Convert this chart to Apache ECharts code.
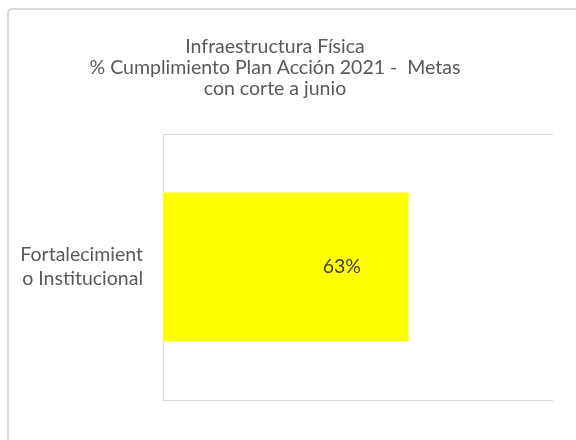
<!DOCTYPE html>
<html>
<head>
<meta charset="utf-8">
<script src="https://cdn.jsdelivr.net/npm/echarts@6/dist/echarts.min.js"></script>
<style>
  html, body { margin: 0; padding: 0; background: #ffffff; }
  #chart { width: 576px; height: 440px; }
</style>
</head>
<body>
<div id="chart"></div>
<script>
// Chart data
const titleLines = [
  'Infraestructura Física',
  '% Cumplimiento Plan Acción 2021 -  Metas',
  'con corte a junio'
];
const categories = ['Fortalecimient\no Institucional'];
const cumplimiento = [0.63];

const FONT = 'Lato, "Open Sans", sans-serif';
const chart = echarts.init(document.getElementById('chart'), null, { renderer: 'canvas' });

chart.setOption({
  backgroundColor: '#ffffff',
  animation: false,
  title: {
    text: titleLines.join('\n'),
    left: 270,
    textAlign: 'center',
    top: 31,
    textStyle: {
      fontFamily: FONT,
      fontSize: 19.5,
      fontWeight: 'normal',
      color: '#595959',
      lineHeight: 21
    }
  },
  graphic: [
    {
      type: 'rect',
      shape: { x: 8, y: 9, width: 620, height: 480, r: 4 },
      style: { fill: 'none', stroke: '#d9d9d9', lineWidth: 2 },
      silent: true
    }
  ],
  grid: { left: 163, right: 23, top: 134, bottom: 40 },
  xAxis: {
    type: 'value',
    min: 0,
    max: 1,
    axisLine: { show: false },
    axisTick: { show: false },
    axisLabel: { show: false },
    splitLine: { show: false }
  },
  yAxis: {
    type: 'category',
    data: categories,
    boundaryGap: true,
    axisLine: { show: true, lineStyle: { color: '#d9d9d9', width: 1 } },
    axisTick: { show: false },
    splitLine: { show: true, lineStyle: { color: '#d9d9d9', width: 1 } },
    axisLabel: {
      margin: 20,
      fontFamily: FONT,
      fontSize: 19.5,
      color: '#595959',
      lineHeight: 24,
      align: 'right'
    }
  },
  series: [
    {
      type: 'bar',
      data: cumplimiento,
      barWidth: '56%',
      itemStyle: { color: '#ffff00' },
      label: {
        show: true,
        position: 'inside',
        offset: [56, 0],
        formatter: p => Math.round(p.value * 100) + '%',
        fontFamily: FONT,
        fontSize: 19.5,
        color: '#404040'
      }
    }
  ]
});
</script>
</body>
</html>
